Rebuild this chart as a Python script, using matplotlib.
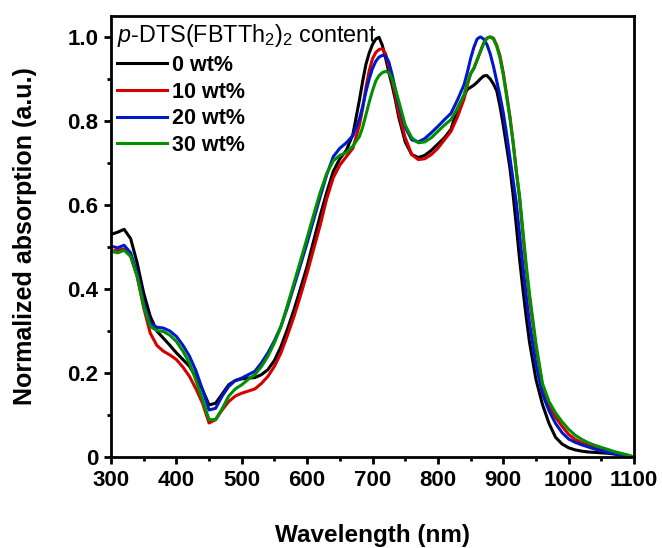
import numpy as np
import matplotlib
matplotlib.use('Agg')
import matplotlib.pyplot as plt
from matplotlib.ticker import MultipleLocator, FuncFormatter

plt.rcParams['font.family'] = ['Liberation Sans', 'DejaVu Sans']
plt.rcParams['mathtext.fontset'] = 'custom'
plt.rcParams['mathtext.rm'] = 'Liberation Sans'
plt.rcParams['mathtext.it'] = 'Liberation Sans:italic'

# wavelength grid (nm)
wavelength = (list(range(300, 690, 10)) + list(range(685, 745, 5)) +
              list(range(750, 850, 10)) + list(range(845, 945, 5)) +
              list(range(950, 1110, 10)))

# normalized absorption
abs_0 = [0.530, 0.535, 0.542, 0.520, 0.462, 0.390, 0.335, 0.300, 0.283, 0.266,
         0.248, 0.232, 0.216, 0.190, 0.160, 0.124, 0.128, 0.150, 0.172, 0.182,
         0.186, 0.188, 0.189, 0.196, 0.208, 0.230, 0.263, 0.305, 0.351, 0.402,
         0.454, 0.515, 0.575, 0.630, 0.680, 0.710, 0.730, 0.768, 0.850,
         0.895, 0.935, 0.962, 0.982, 0.995, 0.999, 0.980, 0.950, 0.915, 0.885, 0.850, 0.810,
         0.750, 0.720, 0.713, 0.718, 0.730, 0.745, 0.760, 0.780, 0.830, 0.860,
         0.875, 0.880, 0.885, 0.892, 0.900, 0.907, 0.908, 0.900, 0.888, 0.872,
         0.835, 0.790, 0.740, 0.690, 0.625, 0.550, 0.470, 0.400, 0.335, 0.275,
         0.185, 0.125, 0.080, 0.047, 0.031, 0.022, 0.017, 0.014, 0.012, 0.011,
         0.010, 0.009, 0.007, 0.005, 0.003, 0.000]

abs_10 = [0.490, 0.492, 0.495, 0.478, 0.430, 0.355, 0.295, 0.266, 0.252, 0.243,
          0.232, 0.214, 0.192, 0.162, 0.128, 0.081, 0.089, 0.112, 0.132, 0.145,
          0.152, 0.157, 0.162, 0.175, 0.192, 0.216, 0.248, 0.290, 0.335, 0.385,
          0.438, 0.495, 0.552, 0.615, 0.665, 0.695, 0.715, 0.735, 0.790,
          0.830, 0.880, 0.920, 0.948, 0.963, 0.970, 0.972, 0.960, 0.930, 0.895, 0.860, 0.820,
          0.760, 0.720, 0.708, 0.710, 0.720, 0.735, 0.755, 0.775, 0.810, 0.852,
          0.885, 0.912, 0.925, 0.945, 0.965, 0.985, 0.997, 1.000, 0.997, 0.980,
          0.955, 0.915, 0.865, 0.812, 0.750, 0.680, 0.615, 0.530, 0.450, 0.380,
          0.262, 0.168, 0.122, 0.095, 0.073, 0.054, 0.042, 0.034, 0.028, 0.023,
          0.018, 0.014, 0.010, 0.007, 0.004, 0.000]

abs_20 = [0.502, 0.498, 0.504, 0.486, 0.438, 0.367, 0.319, 0.309, 0.307, 0.300,
          0.287, 0.266, 0.240, 0.205, 0.160, 0.112, 0.116, 0.145, 0.168, 0.182,
          0.188, 0.196, 0.204, 0.224, 0.248, 0.277, 0.311, 0.357, 0.407, 0.458,
          0.510, 0.565, 0.620, 0.672, 0.715, 0.735, 0.748, 0.765, 0.805,
          0.835, 0.870, 0.900, 0.925, 0.942, 0.952, 0.956, 0.955, 0.940, 0.910, 0.875, 0.840,
          0.785, 0.755, 0.750, 0.758, 0.772, 0.787, 0.803, 0.818, 0.850, 0.886,
          0.915, 0.948, 0.975, 0.995, 1.000, 0.995, 0.982, 0.960, 0.930, 0.895,
          0.860, 0.820, 0.770, 0.715, 0.660, 0.605, 0.530, 0.455, 0.385, 0.320,
          0.220, 0.150, 0.110, 0.080, 0.058, 0.043, 0.035, 0.029, 0.024, 0.019,
          0.015, 0.011, 0.008, 0.005, 0.003, 0.000]

abs_30 = [0.490, 0.486, 0.492, 0.478, 0.430, 0.359, 0.311, 0.301, 0.299, 0.290,
          0.275, 0.252, 0.224, 0.182, 0.136, 0.089, 0.089, 0.115, 0.145, 0.162,
          0.172, 0.185, 0.196, 0.215, 0.240, 0.272, 0.311, 0.362, 0.415, 0.468,
          0.522, 0.577, 0.630, 0.675, 0.705, 0.718, 0.725, 0.740, 0.763,
          0.785, 0.815, 0.845, 0.872, 0.895, 0.908, 0.915, 0.918, 0.915, 0.900, 0.875, 0.848,
          0.790, 0.760, 0.748, 0.750, 0.760, 0.775, 0.790, 0.803, 0.830, 0.862,
          0.890, 0.912, 0.925, 0.945, 0.965, 0.985, 0.997, 1.000, 0.995, 0.978,
          0.950, 0.910, 0.860, 0.810, 0.750, 0.680, 0.620, 0.540, 0.460, 0.390,
          0.270, 0.175, 0.132, 0.105, 0.084, 0.066, 0.052, 0.042, 0.034, 0.028,
          0.023, 0.018, 0.013, 0.009, 0.005, 0.000]

labels = ['0 wt%', '10 wt%', '20 wt%', '30 wt%']
colors = ['#000000', '#D40000', '#0018CC', '#009000']

fig = plt.figure(figsize=(6.62, 5.48), dpi=100)
ax = fig.add_axes([0.1677, 0.166, 0.79, 0.805])

for y, lab, c in zip([abs_0, abs_10, abs_20, abs_30], labels, colors):
    ax.plot(wavelength, y, color=c, lw=2.2, label=lab)

ax.set_xlim(300, 1100)
ax.set_ylim(0, 1.05)
ax.xaxis.set_major_locator(MultipleLocator(100))
ax.xaxis.set_minor_locator(MultipleLocator(50))
ax.yaxis.set_major_locator(MultipleLocator(0.2))
ax.yaxis.set_minor_locator(MultipleLocator(0.1))
ax.yaxis.set_major_formatter(FuncFormatter(lambda v, p: '0' if abs(v) < 1e-9 else f'{v:.1f}'))

for s in ax.spines.values():
    s.set_linewidth(2)
ax.tick_params(which='major', direction='out', length=5, width=2, labelsize=16, pad=4)
ax.tick_params(which='minor', direction='out', length=3, width=2)
for t in ax.get_xticklabels() + ax.get_yticklabels():
    t.set_fontweight('bold')

ax.set_xlabel('Wavelength (nm)', fontsize=17.5, fontweight='bold', labelpad=24)
ax.set_ylabel('Normalized absorption (a.u.)', fontsize=18, fontweight='bold', labelpad=22)

leg = ax.legend(loc='upper left', frameon=False, title=r'$\mathit{p}$-DTS(FBTTh$_2$)$_2$ content',
                prop={'size': 15.5, 'weight': 'bold'}, title_fontproperties={'size': 16.8},
                alignment='left', handlelength=2.3, handletextpad=0.25, labelspacing=0.26,
                borderaxespad=0.1, borderpad=0.2)

fig.savefig('out.png', dpi=100)
